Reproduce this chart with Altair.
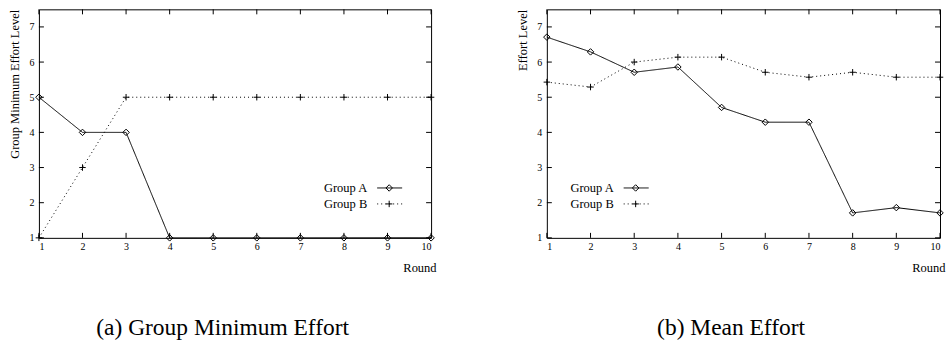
import altair as alt
import pandas as pd

rounds = list(range(1, 11))
groups = ["Group A", "Group B"]
min_a = [5, 4, 4, 1, 1, 1, 1, 1, 1, 1]
min_b = [1, 3, 5, 5, 5, 5, 5, 5, 5, 5]
mean_a = [6.71, 6.29, 5.71, 5.86, 4.71, 4.29, 4.29, 1.71, 1.86, 1.71]
mean_b = [5.43, 5.29, 6.00, 6.14, 6.14, 5.71, 5.57, 5.71, 5.57, 5.57]
y_ticks = [1, 2, 3, 4, 5, 6, 7]
y_domain = [1, 7.5]
x_domain = [1, 10]
captions = ["(a) Group Minimum Effort", "(b) Mean Effort"]
y_titles = ["Group Minimum Effort Level", "Effort Level"]
x_title = "Round"

FONT = "Liberation Serif"
H = 229
DASHES = [[1, 0], [1, 3]]
PLUS = "M-1,0L1,0M0,-1L0,1"
SHAPES = ["diamond", PLUS]


def panel(a_vals, b_vals, y_title, caption, W, legend_text_right):
    rows = []
    for g, vals in zip(groups, [a_vals, b_vals]):
        for r, v in zip(rounds, vals):
            rows.append({"round": r, "value": v, "group": g})
    df = pd.DataFrame(rows)

    xenc = alt.X(
        "round:Q",
        scale=alt.Scale(domain=x_domain, nice=False, zero=False),
        axis=alt.Axis(
            values=rounds, ticks=False, domain=False, grid=False,
            labelPadding=4, labelFontSize=10, labelColor="black",
            title=x_title, titleFontSize=12.5, titleFontWeight="normal",
            titleColor="black", titleAlign="right", titleBaseline="middle",
            titleX=W + 5, titleY=30, titleAngle=0,
        ),
    )
    yenc = alt.Y(
        "value:Q",
        scale=alt.Scale(domain=y_domain, nice=False, zero=False),
        axis=alt.Axis(
            values=y_ticks, ticks=False, domain=False, grid=False,
            labelPadding=5, labelFontSize=10, labelColor="black",
            title=y_title, titleFontSize=12.5, titleFontWeight="normal",
            titleColor="black", titleAnchor="end", titlePadding=7,
        ),
    )

    base = alt.Chart(df)
    lines = base.mark_line(color="black", strokeWidth=1).encode(
        x=xenc, y=yenc,
        strokeDash=alt.StrokeDash("group:N", scale=alt.Scale(domain=groups, range=DASHES), legend=None),
        detail="group:N",
    )
    pts = base.mark_point(filled=False, color="black", size=42, strokeWidth=1, opacity=1).encode(
        x=xenc, y=yenc,
        shape=alt.Shape("group:N", scale=alt.Scale(domain=groups, range=SHAPES), legend=None),
    )

    xt = alt.Chart(pd.DataFrame({"round": rounds}))
    yt = alt.Chart(pd.DataFrame({"value": y_ticks}))
    tb = xt.mark_rule(color="black", strokeWidth=1).encode(x=xenc, y=alt.value(H), y2=alt.value(H - 5))
    tt = xt.mark_rule(color="black", strokeWidth=1).encode(x=xenc, y=alt.value(0), y2=alt.value(5))
    tl = yt.mark_rule(color="black", strokeWidth=1).encode(y=yenc, x=alt.value(0), x2=alt.value(5))
    tr = yt.mark_rule(color="black", strokeWidth=1).encode(y=yenc, x=alt.value(W - 5), x2=alt.value(W))

    layers = [lines, pts, tb, tt, tl, tr]
    for i, g in enumerate(groups):
        ly = 179 + 16 * i
        ldf = alt.Chart(pd.DataFrame({"label": [g]}))
        layers.append(
            ldf.mark_text(align="right", baseline="middle", font=FONT, fontSize=12.5, color="black").encode(
                text="label:N", x=alt.value(legend_text_right), y=alt.value(ly)
            )
        )
        layers.append(
            ldf.mark_rule(color="black", strokeWidth=1, strokeDash=DASHES[i]).encode(
                x=alt.value(legend_text_right + 10), x2=alt.value(legend_text_right + 35), y=alt.value(ly)
            )
        )
        layers.append(
            ldf.mark_point(shape=SHAPES[i], filled=False, color="black", size=42, strokeWidth=1, opacity=1).encode(
                x=alt.value(legend_text_right + 22), y=alt.value(ly)
            )
        )

    return alt.layer(*layers).properties(
        width=W, height=H,
        title=alt.TitleParams(
            caption, orient="bottom", fontSize=23.5, font=FONT, fontWeight="normal",
            color="black", offset=42, anchor="middle", frame="bounds",
        ),
    )


left = panel(min_a, min_b, y_titles[0], captions[0], 393, 329)
right = panel(mean_a, mean_b, y_titles[1], captions[1], 394, 67)

chart = alt.hconcat(left, right, spacing=79).properties(
    padding={"left": 8, "top": 8, "right": 0, "bottom": 0}
).configure(font=FONT).configure_view(stroke="black", strokeWidth=1).configure_axis(
    labelFont=FONT, titleFont=FONT
)

chart.save("out.html", embed_options={"renderer": "svg", "actions": False})
